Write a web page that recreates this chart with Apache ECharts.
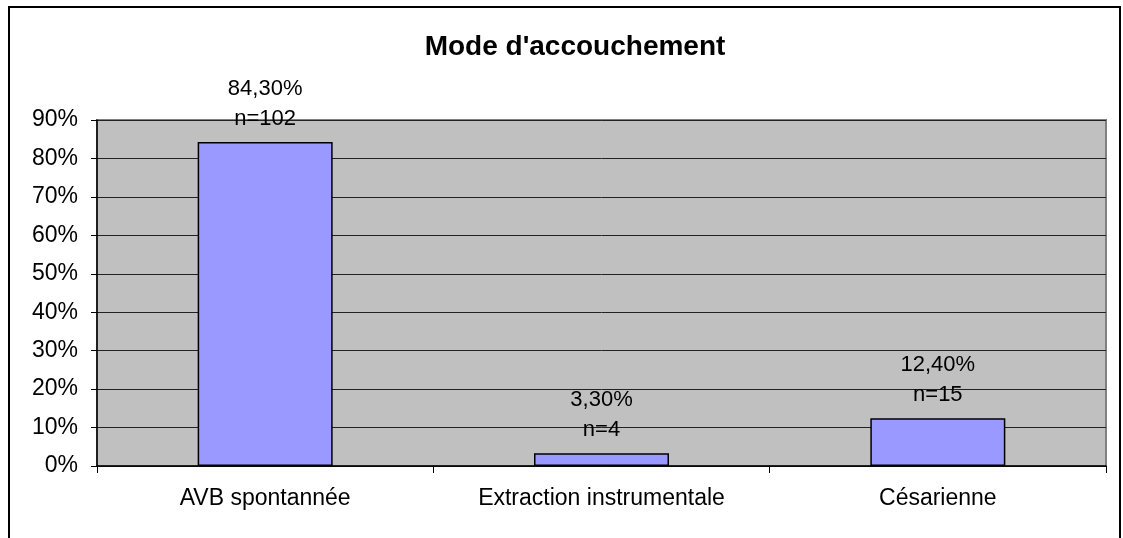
<!DOCTYPE html>
<html>
<head>
<meta charset="utf-8">
<script src="https://cdn.jsdelivr.net/npm/echarts@6/dist/echarts.min.js"></script>
<style>
  html, body { margin: 0; padding: 0; background: #ffffff; }
  #chart { width: 1123px; height: 538px; }
</style>
</head>
<body>
<div id="chart"></div>
<script>
const categories = ['AVB spontannée', 'Extraction instrumentale', 'Césarienne']
const percents = [84.3, 3.3, 12.4]
const counts = [102, 4, 15]
const yTicks = [0, 10, 20, 30, 40, 50, 60, 70, 80, 90]

const fontFamily = '"Liberation Sans", Arial, sans-serif'

const chart = echarts.init(document.getElementById('chart'), null, { renderer: 'canvas' })

chart.setOption({
  backgroundColor: '#ffffff',
  animation: false,
  title: {
    text: "Mode d'accouchement",
    left: 570,
    top: 28,
    textAlign: 'center',
    textStyle: { fontFamily, fontSize: 28, fontWeight: 'bold', color: '#000' },
  },
  graphic: [{
    type: 'rect',
    shape: { x: 9, y: 7, width: 1111, height: 540 },
    style: { fill: 'none', stroke: '#000', lineWidth: 2 },
    silent: true,
  }],
  grid: {
    left: 97, top: 120, right: 17, bottom: 72,
    show: true,
    backgroundColor: '#C0C0C0',
    borderColor: '#808080',
    borderWidth: 2,
  },
  xAxis: {
    type: 'category',
    data: categories,
    axisLine: { lineStyle: { color: '#000', width: 1.5 } },
    axisTick: { show: true, length: 7, alignWithLabel: false, lineStyle: { color: '#000' } },
    axisLabel: { fontFamily, fontSize: 23, color: '#000', margin: 21 },
  },
  yAxis: {
    type: 'value',
    min: yTicks[0],
    max: yTicks[yTicks.length - 1],
    interval: 10,
    axisLine: { show: true, lineStyle: { color: '#000', width: 1.5 } },
    axisTick: { show: true, length: 6, lineStyle: { color: '#000' } },
    axisLabel: { fontFamily, fontSize: 23, color: '#000', margin: 19, formatter: '{value}%' },
    splitLine: { lineStyle: { color: '#222', width: 1 } },
  },
  series: [{
    type: 'bar',
    data: percents,
    barWidth: 135,
    itemStyle: { color: '#9999FF', borderColor: '#000', borderWidth: 1.5 },
    label: {
      show: true,
      position: 'top',
      distance: 8,
      fontFamily,
      fontSize: 22,
      lineHeight: 30,
      color: '#000',
      formatter: (p) => percents[p.dataIndex].toFixed(2).replace('.', ',') + '%\nn=' + counts[p.dataIndex],
    },
  }],
})
</script>
</body>
</html>
